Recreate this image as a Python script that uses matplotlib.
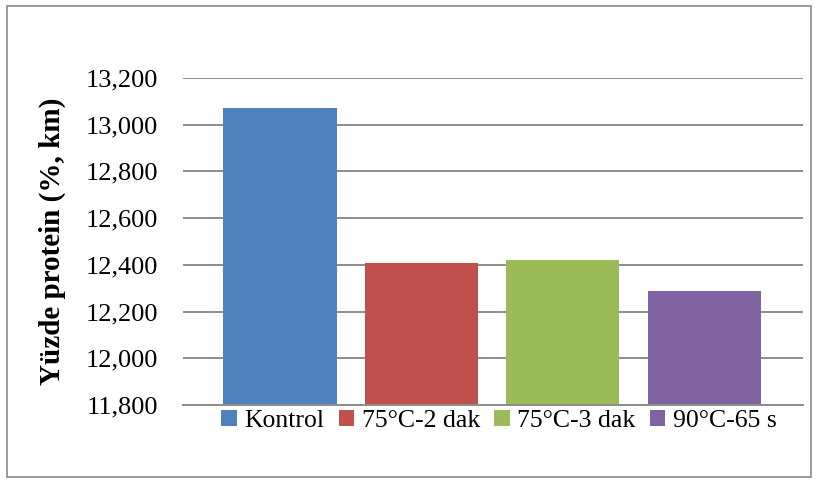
import matplotlib.pyplot as plt
from matplotlib.patches import Rectangle
from matplotlib.ticker import FuncFormatter

# protein percentage for each heat treatment
groups = ['Kontrol', '75°C-2 dak', '75°C-3 dak', '90°C-65 s']
protein = [13070, 12410, 12420, 12290]
colors = ['#4F81BD', '#C0504D', '#9BBB59', '#8064A2']
yticks = [11800, 12000, 12200, 12400, 12600, 12800, 13000, 13200]

plt.rcParams['font.family'] = ['Liberation Serif', 'DejaVu Serif']

fig = plt.figure(figsize=(8.17, 4.83), dpi=100)
ax = fig.add_axes([183/817, 1-405/483, 620/817, 327/483])

bars = []
for i, (g, v, c) in enumerate(zip(groups, protein, colors)):
    b = ax.bar(i, v - yticks[0], bottom=yticks[0], width=0.8, color=c, label=g, zorder=3)
    bars.append(b)

ax.set_xlim(-0.686, 3.70)
ax.set_ylim(yticks[0], yticks[-1])
ax.set_yticks(yticks)
ax.yaxis.set_major_formatter(FuncFormatter(lambda v, p: f'{int(v):,}'))
ax.tick_params(axis='y', length=0, pad=18, labelsize=19)
ax.set_xticks([])
ax.grid(axis='y', color='#8c8c8c', linewidth=1.4, zorder=0)
for s in ['top', 'right', 'left']:
    ax.spines[s].set_visible(False)
ax.spines['bottom'].set_color('#8c8c8c')
ax.spines['bottom'].set_linewidth(1.4)
ax.spines['bottom'].set_zorder(4)

ax.set_ylabel('Yüzde protein (%, km)', fontsize=21, fontweight='bold', labelpad=14)

fig.legend(handles=bars, loc='center', bbox_to_anchor=(499/817, 1-421/483), ncol=4,
           frameon=False, fontsize=18.5, handlelength=0.6, handleheight=0.6,
           handletextpad=0.3, columnspacing=0.55, borderaxespad=0)

# outer chart border
fig.patches.append(Rectangle((7/817, 6/483), 804/817, 471/483, transform=fig.transFigure,
                             fill=False, edgecolor='#8a8a8a', linewidth=1.2))

fig.savefig('out.png', dpi=100)
